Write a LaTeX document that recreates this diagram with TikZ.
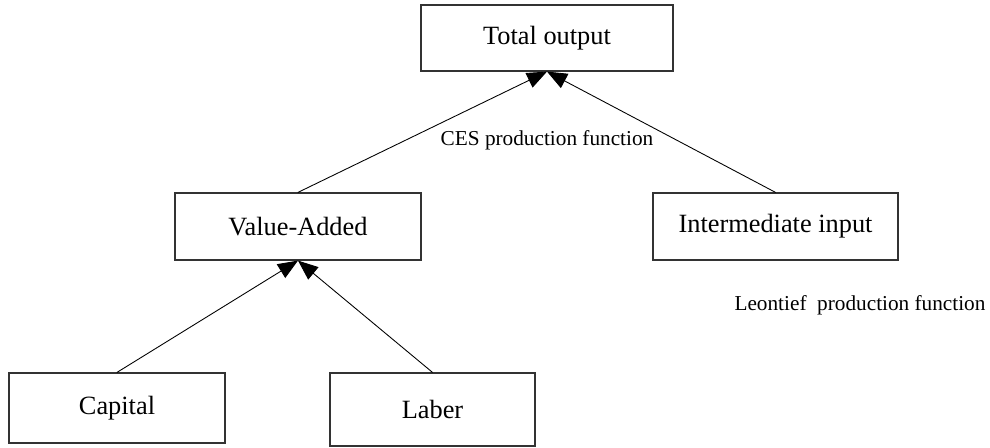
\documentclass[tikz,border=0pt]{standalone}
\usepackage{fontspec}
\setmainfont{Liberation Serif}
\usetikzlibrary{arrows.meta}
\begin{document}
\begin{tikzpicture}[x=0.02cm,y=-0.02cm,line cap=round,
  box/.style={draw=black!80,line width=0.7pt,inner sep=0pt,font=\fontsize{15}{18}\selectfont},
  feed/.style={line width=0.5pt,-{Triangle[length=0.4cm,width=0.32cm]}},
  note/.style={font=\fontsize{12.1}{14}\selectfont}]
  \useasboundingbox (0,0) rectangle (990,448);
  % boxes
  \node[box,minimum width=5.04cm,minimum height=1.32cm] (total) at (547,38) {Total output};
  \node[box,minimum width=4.92cm,minimum height=1.34cm] (vadd) at (298,226.5) {Value-Added};
  \node[box,minimum width=4.90cm,minimum height=1.34cm] (inter) at (775.5,226.5) {Intermediate input};
  \node[box,minimum width=4.32cm,minimum height=1.40cm] (capital) at (117,408) {Capital};
  \node[box,minimum width=4.10cm,minimum height=1.46cm] (laber) at (432.5,409.5) {Laber};
  % labels
  \node[note] (ces) at (547,140) {CES production function};
  \node[note] (leon) at (860,305) {Leontief\ \ production function};
  % arrows
  \draw[feed] (vadd.north) -- (total.south);
  \draw[feed] (inter.north) -- (total.south);
  \draw[feed] (capital.north) -- (vadd.south);
  \draw[feed] (laber.north) -- (vadd.south);
\end{tikzpicture}
\end{document}
